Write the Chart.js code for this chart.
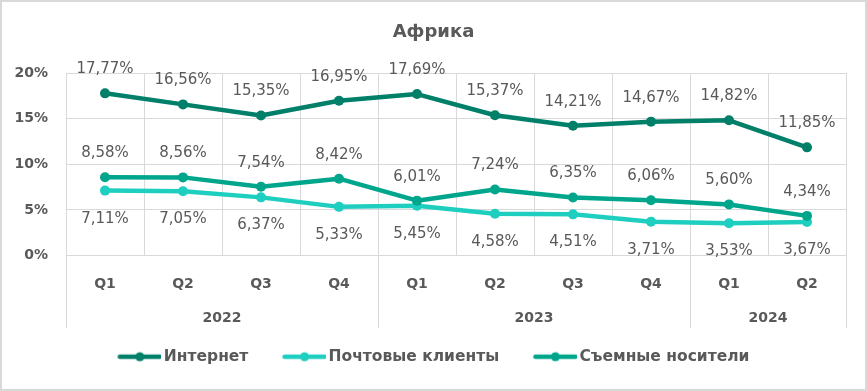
<!DOCTYPE html>
<html><head><meta charset="utf-8">
<style>html,body{margin:0;padding:0;background:#fff}#wrap{width:867px;height:391px;position:relative}</style>
<script src="https://cdn.jsdelivr.net/npm/chart.js@4.4.1/dist/chart.umd.min.js"></script>
</head><body><div id="wrap"><canvas id="c" width="867" height="391"></canvas></div>
<script>
const chartTitle = 'Африка';
const quarters = ['Q1','Q2','Q3','Q4','Q1','Q2','Q3','Q4','Q1','Q2'];
const years = ['2022','2023','2024'];
const yearSpans = [4,4,2];
const seriesNames = ['Интернет','Почтовые клиенты','Съемные носители'];
const internet = [17.77,16.56,15.35,16.95,17.69,15.37,14.21,14.67,14.82,11.85];
const mailClients = [7.11,7.05,6.37,5.33,5.45,4.58,4.51,3.71,3.53,3.67];
const removable = [8.58,8.56,7.54,8.42,6.01,7.24,6.35,6.06,5.60,4.34];
const yMin = 0, yMax = 20, yStep = 5;

const colors = ['#007F69','#1ECFC0','#00A68B'];
const labelOffsets = [-24, 28, -24];
const TEXT = '#595959';
const GRID = '#D9D9D9';
const FONT = '"DejaVu Sans", sans-serif';

function legendImg(color){
  const W = 49.5, H = 12;
  const c = document.createElement('canvas');
  c.width = W; c.height = H;
  const g = c.getContext('2d');
  g.strokeStyle = color; g.lineWidth = 4.5; g.lineCap = 'round';
  g.beginPath(); g.moveTo(5.5 + 2, H/2); g.lineTo(W - 2, H/2); g.stroke();
  g.fillStyle = color;
  g.beginPath(); g.arc(5.5 + 22, H/2, 4.5, 0, Math.PI*2); g.fill();
  return c;
}
const legendImgs = colors.map(legendImg);

const extras = {
  id: 'extras',
  afterDatasetsDraw(chart){
    const ctx = chart.ctx;
    ctx.save();
    ctx.font = '15px ' + FONT;
    ctx.fillStyle = TEXT;
    ctx.textAlign = 'center';
    ctx.textBaseline = 'middle';
    chart.data.datasets.forEach((ds, di) => {
      const meta = chart.getDatasetMeta(di);
      meta.data.forEach((pt, i) => {
        const txt = ds.data[i].toFixed(2).replace('.', ',') + '%';
        ctx.fillText(txt, pt.x, pt.y + labelOffsets[di]);
      });
    });
    ctx.restore();
  },
  afterDraw(chart){
    const ctx = chart.ctx;
    const area = chart.chartArea;
    const catW = (area.right - area.left) / quarters.length;
    ctx.save();
    ctx.strokeStyle = GRID; ctx.lineWidth = 1;
    let idx = 0;
    const bounds = [0];
    yearSpans.forEach(s => { idx += s; bounds.push(idx); });
    bounds.forEach(b => {
      const x = Math.round(area.left + b * catW) + 0.5;
      ctx.beginPath(); ctx.moveTo(x, area.bottom); ctx.lineTo(x, 328); ctx.stroke();
    });
    ctx.font = 'bold 14px ' + FONT;
    ctx.fillStyle = TEXT;
    ctx.textAlign = 'center';
    ctx.textBaseline = 'middle';
    years.forEach((y, i) => {
      const cx = area.left + (bounds[i] + bounds[i+1]) / 2 * catW;
      ctx.fillText(y, cx, 318);
    });
    ctx.lineWidth = 2;
    ctx.strokeRect(1, 1, chart.width - 2, chart.height - 2);
    ctx.restore();
  }
};

const mkDs = (label, data, i) => ({
  label, data,
  borderColor: colors[i], backgroundColor: colors[i],
  pointBackgroundColor: colors[i], pointBorderColor: colors[i],
  borderWidth: 4.5, pointBorderWidth: 0, pointRadius: 5, pointHoverRadius: 5,
  tension: 0, borderCapStyle: 'round', borderJoinStyle: 'round',
  order: 3 - i
});

new Chart(document.getElementById('c'), {
  type: 'line',
  data: {
    labels: quarters,
    datasets: [
      mkDs(seriesNames[0], internet, 0),
      mkDs(seriesNames[1], mailClients, 1),
      mkDs(seriesNames[2], removable, 2)
    ]
  },
  options: {
    responsive: false,
    devicePixelRatio: 1,
    animation: false,
    events: [],
    layout: { padding: { left: 0, right: 0, top: 0, bottom: 16.5 } },
    scales: {
      x: {
        offset: true,
        grid: { offset: true, color: GRID, drawTicks: false, lineWidth: 1 },
        border: { display: false },
        ticks: { color: TEXT, font: { family: FONT, size: 14, weight: 'bold' }, padding: 20, maxRotation: 0, autoSkip: false },
        afterFit(s){ s.height = 59.5; }
      },
      y: {
        min: yMin, max: yMax,
        grid: { color: GRID, drawTicks: false, lineWidth: 1 },
        border: { display: false },
        ticks: { stepSize: yStep, color: TEXT, font: { family: FONT, size: 14, weight: 'bold' }, padding: 18, callback: v => v + '%' },
        afterFit(s){ s.width = 66; }
      },
      yRight: {
        position: 'right',
        display: true,
        min: yMin, max: yMax,
        grid: { display: false, drawOnChartArea: false },
        border: { display: false },
        ticks: { display: false },
        afterFit(s){ s.width = 21; }
      }
    },
    plugins: {
      title: {
        display: true, text: chartTitle, color: TEXT,
        font: { family: FONT, size: 18, weight: 'bold' },
        padding: { top: 21.2, bottom: 30.2 }
      },
      legend: {
        position: 'bottom',
        labels: {
          usePointStyle: true,
          pointStyleWidth: 38.5,
          padding: 34,
          color: TEXT,
          font: { family: FONT, size: 15.5, weight: 'bold' },
          sort: (a, b) => a.datasetIndex - b.datasetIndex,
          generateLabels(chart){
            const items = Chart.defaults.plugins.legend.labels.generateLabels(chart);
            items.forEach((it) => { it.pointStyle = legendImgs[it.datasetIndex]; });
            return items;
          }
        }
      },
      tooltip: { enabled: false }
    }
  },
  plugins: [extras]
});
</script>
</body></html>
